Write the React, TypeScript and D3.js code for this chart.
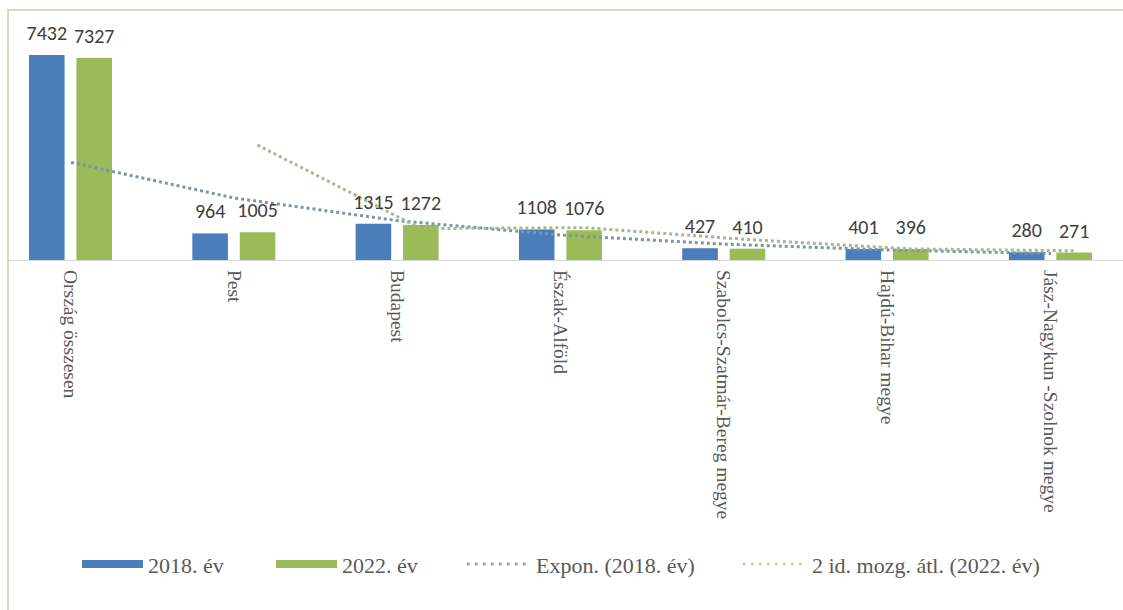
import { useEffect, useRef } from "react";
import * as d3 from "d3";

const categories = [
  "Ország összesen",
  "Pest",
  "Budapest",
  "Észak-Alföld",
  "Szabolcs-Szatmár-Bereg megye",
  "Hajdú-Bihar megye",
  "Jász-Nagykun -Szolnok megye",
];
const seriesNames = ["2018. év", "2022. év"];
const values2018 = [7432, 964, 1315, 1108, 427, 401, 280];
const values2022 = [7327, 1005, 1272, 1076, 410, 396, 271];
const trendNames = ["Expon. (2018. év)", "2 id. mozg. átl. (2022. év)"];

const W = 1123;
const H = 610;
const BLUE = "#4a7ebb";
const GREEN = "#9bbb59";

export default function App() {
  const svgRef = useRef<SVGSVGElement>(null);

  useEffect(() => {
    if (!svgRef.current) return;
    const svg = d3.select(svgRef.current);
    svg.selectAll("*").remove();

    const baseY = 260;
    const pxPerUnit = 205 / 7432;

    svg.append("rect").attr("width", W).attr("height", H).attr("fill", "#fff");

    // chart frame (cropped on right and bottom)
    svg.append("rect")
      .attr("x", 8).attr("y", 10)
      .attr("width", W + 20).attr("height", H + 20)
      .attr("fill", "none")
      .attr("stroke", "#dcd6c0")
      .attr("stroke-width", 2);

    const x0 = d3.scaleBand<string>()
      .domain(categories)
      .range([-10.6, 1132.6]);
    const bw = x0.bandwidth();
    const x1 = d3.scaleBand<string>()
      .domain(seriesNames)
      .range([bw * 0.2425, bw * 0.7507])
      .paddingInner(0.25);

    const y = d3.scaleLinear()
      .domain([0, 8000])
      .range([baseY, baseY - 8000 * pxPerUnit]);

    const series = [
      { name: seriesNames[0], values: values2018, color: BLUE },
      { name: seriesNames[1], values: values2022, color: GREEN },
    ];

    // bars
    for (const s of series) {
      svg.append("g")
        .selectAll("rect")
        .data(s.values)
        .join("rect")
        .attr("x", (_, i) => (x0(categories[i]) ?? 0) + (x1(s.name) ?? 0))
        .attr("y", d => y(d))
        .attr("width", x1.bandwidth())
        .attr("height", d => baseY - y(d))
        .attr("fill", s.color);
    }

    // category axis line
    svg.append("line")
      .attr("x1", 9).attr("x2", W)
      .attr("y1", baseY + 0.5).attr("y2", baseY + 0.5)
      .attr("stroke", "#d9d9d9")
      .attr("stroke-width", 1.2);

    // exponential trend for 2018 (least squares on ln y)
    const n = values2018.length;
    const xs = d3.range(1, n + 1);
    const lns = values2018.map(v => Math.log(v));
    const mx = d3.mean(xs)!;
    const ml = d3.mean(lns)!;
    const b = d3.sum(xs.map((xv, i) => (xv - mx) * (lns[i] - ml))) / d3.sum(xs.map(xv => (xv - mx) ** 2));
    const a = ml - b * mx;
    const expPts: [number, number][] = xs.map((xv, i) => [
      (x0(categories[i]) ?? 0) + bw / 2,
      y(Math.exp(a + b * xv)),
    ]);

    // 2-period moving average for 2022
    const maPts: [number, number][] = [];
    for (let i = 1; i < values2022.length; i++) {
      const avg = (values2022[i] + values2022[i - 1]) / 2;
      maPts.push([
        (x0(categories[i]) ?? 0) + (x1(seriesNames[1]) ?? 0) + x1.bandwidth() / 2,
        y(avg),
      ]);
    }

    const line = d3.line();
    svg.append("path")
      .attr("d", line(expPts))
      .attr("fill", "none")
      .attr("stroke", "#7d95a8")
      .attr("stroke-width", 3)
      .attr("stroke-dasharray", "3 3");
    svg.append("path")
      .attr("d", line(maPts))
      .attr("fill", "none")
      .attr("stroke", "#a5b98a")
      .attr("stroke-width", 3)
      .attr("stroke-dasharray", "3 3");

    // data labels
    for (const s of series) {
      svg.append("g")
        .selectAll("text")
        .data(s.values)
        .join("text")
        .attr("x", (_, i) => (x0(categories[i]) ?? 0) + (x1(s.name) ?? 0) + x1.bandwidth() / 2)
        .attr("y", d => y(d) - 15)
        .attr("text-anchor", "middle")
        .attr("font-family", "Carlito, 'Liberation Sans', Arial, sans-serif")
        .attr("font-size", 20)
        .attr("fill", "#404040")
        .text(d => String(d));
    }

    // category labels, rotated
    svg.append("g")
      .selectAll("text")
      .data(categories)
      .join("text")
      .attr("transform", d => `translate(${(x0(d) ?? 0) + bw / 2},${baseY + 10}) rotate(90)`)
      .attr("dy", "0.35em")
      .attr("font-family", "'Liberation Serif', 'Times New Roman', serif")
      .attr("font-size", 19.5)
      .attr("fill", "#595959")
      .text(d => d);

    // legend
    const legY = 564;
    const legend = [
      { label: seriesNames[0], color: BLUE, kind: "bar", x: 82 },
      { label: seriesNames[1], color: GREEN, kind: "bar", x: 276 },
      { label: trendNames[0], color: "#6f8fb0", kind: "dot", x: 467 },
      { label: trendNames[1], color: "#b5cc8c", kind: "dot", x: 743 },
    ];
    const lg = svg.append("g");
    for (const item of legend) {
      if (item.kind === "bar") {
        lg.append("rect")
          .attr("x", item.x).attr("y", legY - 4)
          .attr("width", 61).attr("height", 8)
          .attr("fill", item.color);
      } else {
        lg.append("line")
          .attr("x1", item.x).attr("x2", item.x + 64)
          .attr("y1", legY).attr("y2", legY)
          .attr("stroke", item.color)
          .attr("stroke-width", 2.5)
          .attr("stroke-dasharray", "2.5 5.5");
      }
      lg.append("text")
        .attr("x", item.x + (item.kind === "bar" ? 66 : 69))
        .attr("y", legY + 9)
        .attr("font-family", "'Liberation Serif', 'Times New Roman', serif")
        .attr("font-size", 22)
        .attr("fill", "#595959")
        .text(item.label);
    }
  }, []);

  return (
    <svg
      ref={svgRef}
      width={W}
      height={H}
      style={{ position: "absolute", left: 0, top: 0, display: "block" }}
    />
  );
}
